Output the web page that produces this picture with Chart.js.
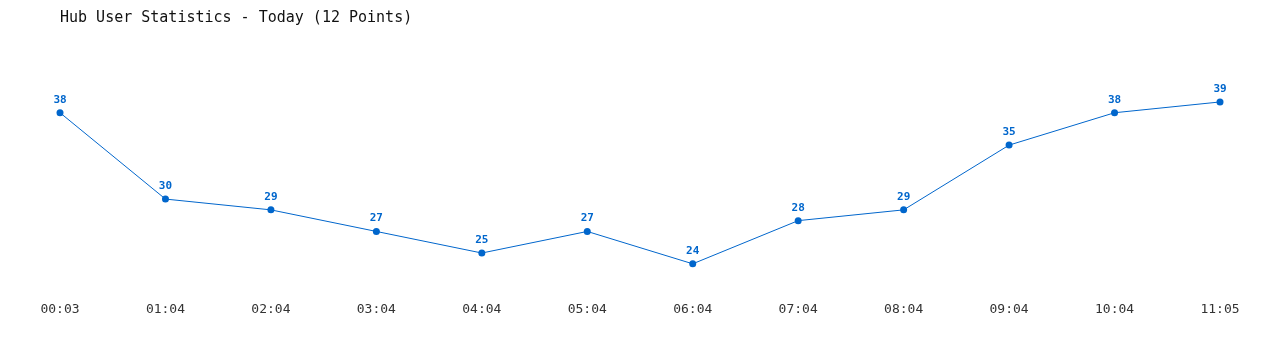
<!DOCTYPE html>
<html>
<head>
<meta charset="utf-8">
<script src="https://cdn.jsdelivr.net/npm/chart.js@4"></script>
<style>
  html, body { margin: 0; padding: 0; background: #fff; }
  #wrap { width: 1280px; height: 350px; }
</style>
</head>
<body>
<div id="wrap"><canvas id="hub-chart" width="1280" height="350"></canvas></div>
<script>
const titleText = 'Hub User Statistics - Today (12 Points)'
const timeLabels = ['00:03', '01:04', '02:04', '03:04', '04:04', '05:04', '06:04', '07:04', '08:04', '09:04', '10:04', '11:05']
const userCounts = [38, 30, 29, 27, 25, 27, 24, 28, 29, 35, 38, 39]

const blue = '#0066cc'

// numbers above each point
const pointLabels = {
  id: 'pointLabels',
  afterDatasetsDraw (chart) {
    const ctx = chart.ctx
    const meta = chart.getDatasetMeta(0)
    ctx.save()
    ctx.font = 'bold 11px "DejaVu Sans Mono", monospace'
    ctx.fillStyle = blue
    ctx.textAlign = 'center'
    ctx.textBaseline = 'middle'
    meta.data.forEach((pt, i) => {
      ctx.fillText(String(chart.data.datasets[0].data[i]), pt.x, pt.y - 13)
    })
    ctx.restore()
  }
}

const initializeHubChart = () => {
  const canvas = document.getElementById('hub-chart')

  new Chart(canvas, {
    type: 'line',
    data: {
      labels: timeLabels,
      datasets: [{
        data: userCounts,
        borderColor: blue,
        backgroundColor: blue,
        borderWidth: 1,
        pointRadius: 3.5,
        pointBorderWidth: 0,
        tension: 0,
        fill: false
      }]
    },
    options: {
      responsive: false,
      animation: false,
      layout: {
        padding: { left: 60, right: 60, top: 0, bottom: 17 }
      },
      plugins: {
        legend: { display: false },
        tooltip: { enabled: false },
        title: {
          display: true,
          text: titleText,
          align: 'start',
          color: '#111',
          font: { family: '"DejaVu Sans Mono", monospace', size: 15, weight: 'normal', lineHeight: 1.2 },
          padding: { top: 9, bottom: 21 }
        }
      },
      scales: {
        x: {
          offset: false,
          grid: { display: false, drawTicks: false },
          border: { display: false },
          ticks: {
            color: '#333',
            padding: 16,
            maxRotation: 0,
            autoSkip: false,
            font: { family: '"DejaVu Sans Mono", monospace', size: 13 }
          }
        },
        y: {
          display: false,
          min: 22,
          max: 44
        }
      }
    },
    plugins: [pointLabels]
  })
}

initializeHubChart()
</script>
</body>
</html>
